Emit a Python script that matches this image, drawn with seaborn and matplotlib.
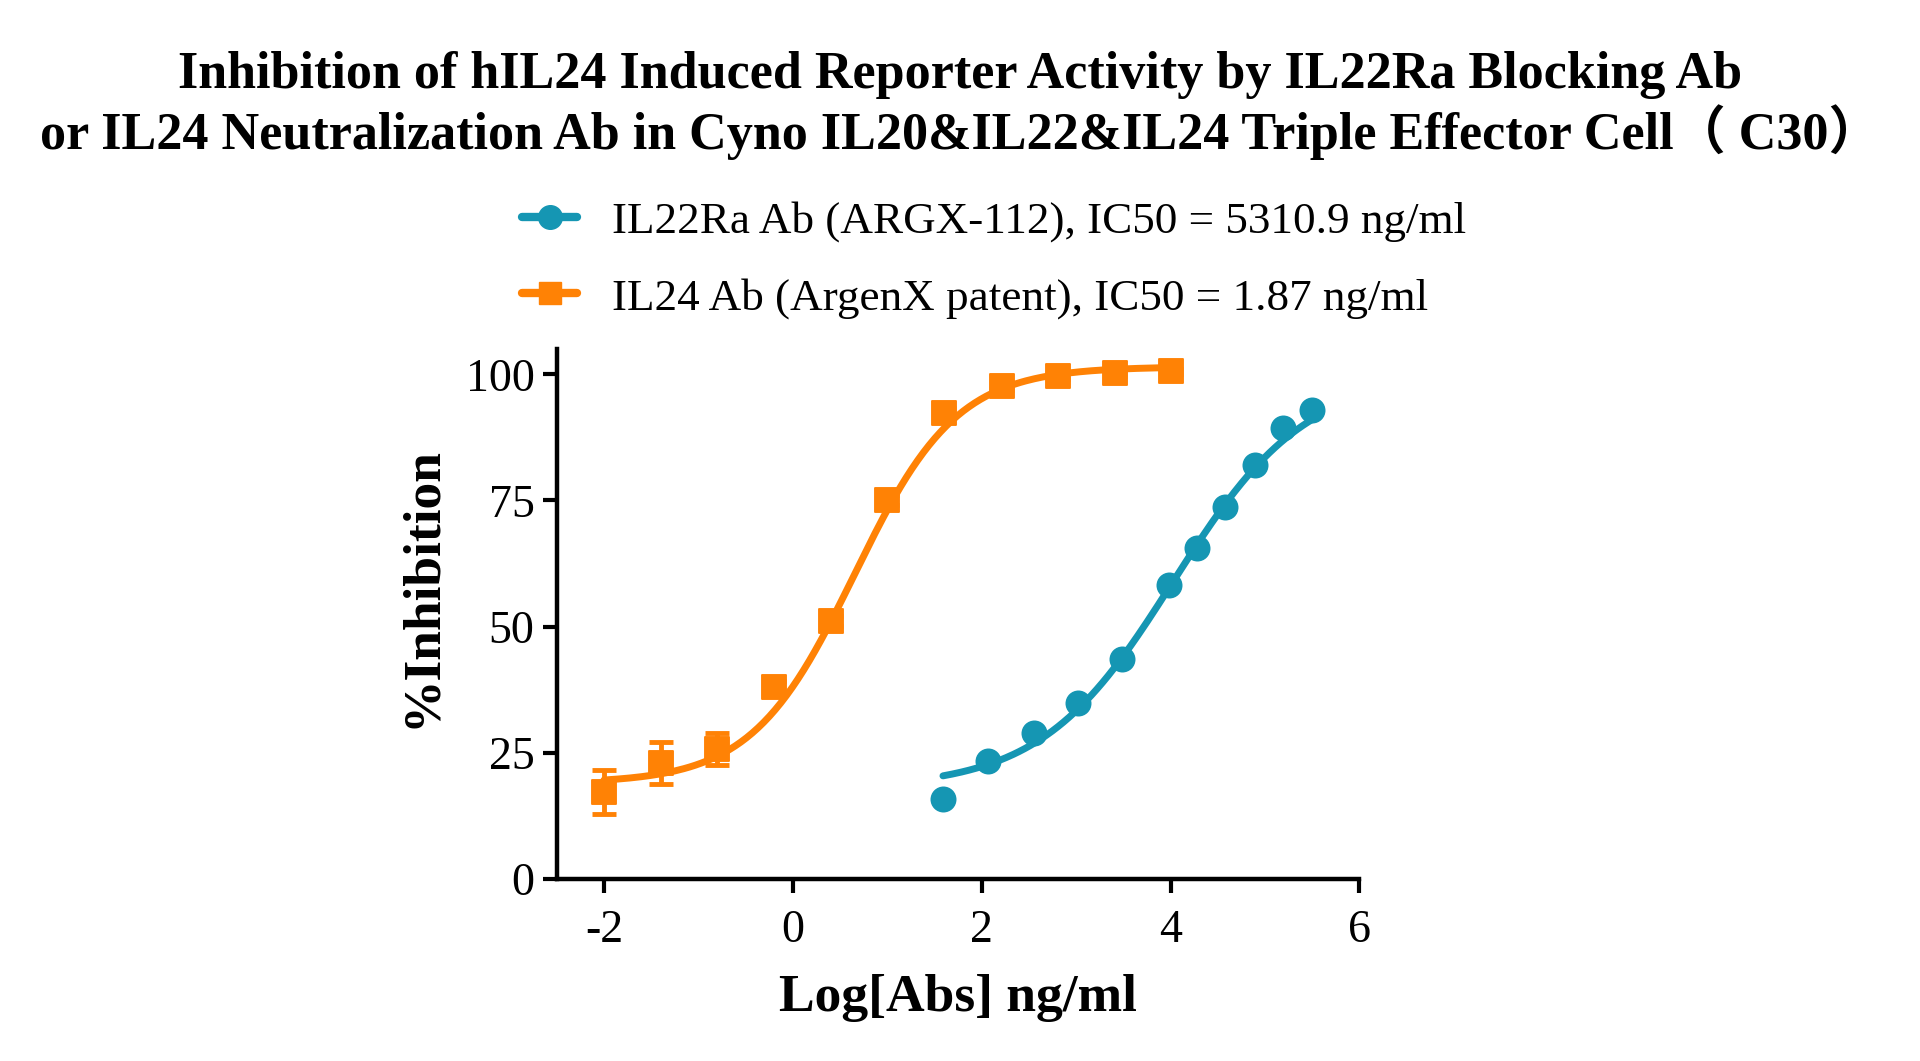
import numpy as np
import pandas as pd
import matplotlib
matplotlib.use("Agg")
import matplotlib.pyplot as plt
from matplotlib.lines import Line2D
import seaborn as sns

# data
il22_logx = [1.59, 2.07, 2.55, 3.02, 3.49, 3.98, 4.28, 4.58, 4.89, 5.19, 5.50]
il22_inh = [15.9, 23.3, 28.9, 34.8, 43.5, 58.2, 65.6, 73.8, 82.1, 89.3, 92.9]

il24_logx = [-2.00, -1.40, -0.80, -0.20, 0.40, 1.00, 1.60, 2.21, 2.81, 3.41, 4.01]
il24_inh = [17.3, 23.0, 25.8, 38.1, 51.1, 75.1, 92.3, 97.7, 99.7, 100.2, 100.6]
il24_err = [4.4, 4.1, 3.2, 1.2, 1.0, 1.0, 1.0, 0.8, 0.6, 0.5, 0.5]

# 4PL fit parameters (bottom, top, log x50, hill) as drawn
il22_fit = (18.0, 100.0, 4.03, 0.62)
il24_fit = (19.0, 101.5, 0.65, 0.80)

labels = ["IL22Ra Ab (ARGX-112), IC50 = 5310.9 ng/ml",
          "IL24 Ab (ArgenX patent), IC50 = 1.87 ng/ml"]
blue = "#1596b3"
orange = "#ff8205"


def four_pl(x, p):
    b, t, x50, h = p
    return b + (t - b) / (1 + 10 ** ((x50 - x) * h))


sns.set_theme(style="ticks")
plt.rcParams["font.family"] = ["Liberation Serif", "DejaVu Serif"]
plt.rcParams["axes.unicode_minus"] = False
for k in ["text.color", "axes.labelcolor", "xtick.color", "ytick.color"]:
    plt.rcParams[k] = "black"

fig = plt.figure(figsize=(19.2, 10.61), dpi=100)
ax = fig.add_axes([0.29, 0.1715, 0.418, 0.4995])

xs22 = np.linspace(il22_logx[0], il22_logx[-1], 200)
xs24 = np.linspace(il24_logx[0], il24_logx[-1], 200)
curves = pd.DataFrame({
    "x": np.concatenate([xs22, xs24]),
    "y": np.concatenate([four_pl(xs22, il22_fit), four_pl(xs24, il24_fit)]),
    "grp": ["a"] * len(xs22) + ["b"] * len(xs24),
})
sns.lineplot(data=curves, x="x", y="y", hue="grp", palette=[blue, orange],
             linewidth=5, legend=False, ax=ax)

ax.errorbar(il24_logx, il24_inh, yerr=il24_err, fmt="none", ecolor=orange,
            elinewidth=3.5, capsize=8.5, capthick=3.5)
sns.scatterplot(x=il22_logx, y=il22_inh, color=blue, marker="o", s=300,
                edgecolor=blue, ax=ax)
sns.scatterplot(x=il24_logx, y=il24_inh, color=orange, marker="s", s=290,
                edgecolor=orange, ax=ax)

ax.set_xlim(-2.5, 6)
ax.set_ylim(0, 105)
ax.set_xticks([-2, 0, 2, 4, 6])
ax.set_yticks([0, 25, 50, 75, 100])
ax.tick_params(labelsize=33, width=3, length=10)
ax.tick_params(axis="x", pad=12)
ax.tick_params(axis="y", pad=6)
for s in ["left", "bottom"]:
    ax.spines[s].set_linewidth(3.2)
    ax.spines[s].set_color("black")
sns.despine(ax=ax)

ax.set_xlabel("Log[Abs] ng/ml", fontsize=38.5, fontweight="bold", labelpad=16)
ax.set_ylabel("%Inhibition", fontsize=38.5, fontweight="bold", labelpad=14)
ax.yaxis.label.set_y(0.55)

fig.suptitle("Inhibition of hIL24 Induced Reporter Activity by IL22Ra Blocking Ab\n"
             "or IL24 Neutralization Ab in Cyno IL20&IL22&IL24 Triple Effector Cell\uff08 C30\uff09",
             fontsize=37.5, fontweight="bold", y=0.952, linespacing=1.12,
             family=["Liberation Serif", "Noto Sans CJK SC"])

handles = [Line2D([], [], color=blue, marker="o", lw=6, markersize=17),
           Line2D([], [], color=orange, marker="s", lw=6, markersize=16)]
fig.legend(handles, labels, loc="center left", bbox_to_anchor=(0.272, 0.755),
           frameon=False, fontsize=32.5, handlelength=1.22, handletextpad=0.76,
           labelspacing=0.78, borderpad=0, borderaxespad=0)

fig.savefig("out.png", dpi=100)
